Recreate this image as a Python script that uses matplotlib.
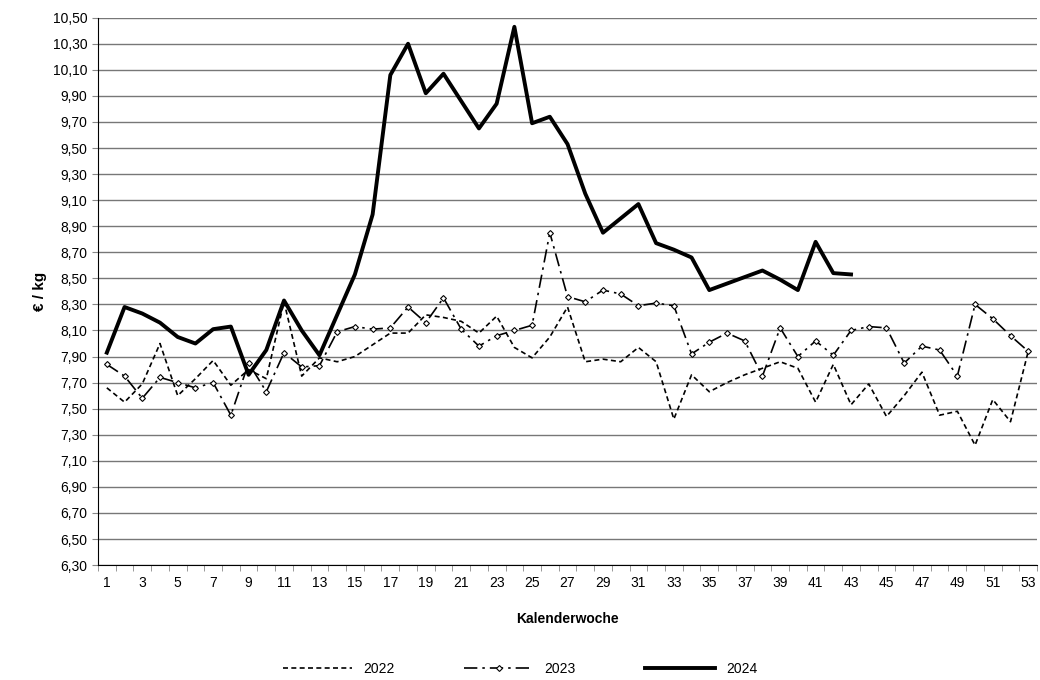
import matplotlib.pyplot as plt
import numpy as np

plt.rcParams['font.family'] = ['Liberation Sans', 'DejaVu Sans']

weeks = list(range(1, 54))
y2022 = [7.66, 7.55, 7.69, 8.00, 7.60, 7.73, 7.87, 7.68, 7.80, 7.73, 8.32, 7.75, 7.89, 7.86, 7.90, 7.99,
         8.08, 8.08, 8.22, 8.20, 8.17, 8.08, 8.21, 7.97, 7.89, 8.05, 8.28, 7.86, 7.88, 7.86, 7.97, 7.86,
         7.42, 7.76, 7.63, 7.70, 7.76, 7.81, 7.86, 7.81, 7.55, 7.84, 7.53, 7.69, 7.44, 7.60, 7.78, 7.45,
         7.48, 7.22, 7.57, 7.40, 7.94]
y2023 = [7.84, 7.75, 7.58, 7.74, 7.70, 7.66, 7.70, 7.45, 7.85, 7.63, 7.93, 7.82, 7.83, 8.09, 8.13, 8.11,
         8.12, 8.28, 8.16, 8.35, 8.11, 7.98, 8.06, 8.10, 8.14, 8.85, 8.36, 8.32, 8.41, 8.38, 8.29, 8.31,
         8.29, 7.92, 8.01, 8.08, 8.02, 7.75, 8.12, 7.90, 8.02, 7.91, 8.10, 8.13, 8.12, 7.85, 7.98, 7.95,
         7.75, 8.30, 8.19, 8.06, 7.94]
y2024 = [7.93, 8.28, 8.23, 8.16, 8.05, 8.00, 8.11, 8.13, 7.76, 7.95, 8.33, 8.10, 7.91, 8.22, 8.53, 8.99,
         10.06, 10.30, 9.92, 10.07, 9.86, 9.65, 9.84, 10.43, 9.69, 9.74, 9.53, 9.15, 8.85, 8.96, 9.07, 8.77,
         8.72, 8.66, 8.41, 8.46, 8.51, 8.56, 8.49, 8.41, 8.78, 8.54, 8.53]

fig = plt.figure(figsize=(10.4, 6.8), dpi=100)
ax = fig.add_axes([0.0942, 0.169, 0.903, 0.805])

ax.plot(weeks, y2022, color='black', linestyle=(0, (3, 2)), linewidth=1.2, label='2022')
ax.plot(weeks, y2023, color='black', linestyle=(0, (8, 3, 1.5, 3)), linewidth=1.2,
        marker='D', markersize=3, markerfacecolor='white', markeredgewidth=0.8, label='2023')
ax.plot(weeks[:len(y2024)], y2024, color='black', linewidth=2.8, label='2024')

ax.set_ylim(6.30, 10.50)
ax.set_xlim(0.5, 53.5)
yt = np.arange(6.30, 10.51, 0.20)
ax.set_yticks(yt)
ax.set_yticklabels([f'{v:.2f}'.replace('.', ',') for v in yt], fontsize=10)
ax.set_xticks(range(1, 54, 2))
ax.set_xticks(np.arange(0.5, 53.6, 1), minor=True)
ax.tick_params(axis='x', which='major', length=0, labelsize=10, pad=8)
ax.tick_params(axis='x', which='minor', length=4, color='#888888')
ax.tick_params(axis='y', length=4, color='#888888')
ax.grid(axis='y', color='#777777', linewidth=1)
ax.set_axisbelow(True)
for s in ['top', 'right']:
    ax.spines[s].set_visible(False)
ax.set_ylabel('€ / kg', fontsize=11, fontweight='bold')
ax.set_xlabel('Kalenderwoche', fontsize=10, fontweight='bold', labelpad=16)

fig.legend(loc='center', ncol=3, frameon=False, fontsize=10, handlelength=5,
           columnspacing=5, bbox_to_anchor=(0.5, 0.016))
fig.savefig('out.png')
